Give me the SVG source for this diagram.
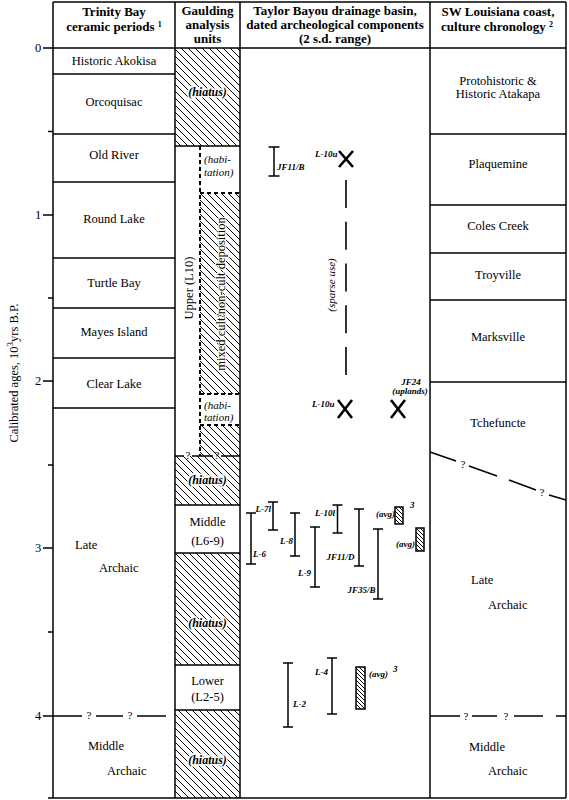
<svg xmlns="http://www.w3.org/2000/svg" width="569" height="800" viewBox="0 0 569 800">
<style>
.ln{stroke:#000;stroke-width:1.5;fill:none}
.dl{stroke:#000;stroke-width:2;fill:none;stroke-dasharray:4 3}
.bar{stroke:#000;stroke-width:1.5;fill:none}
.xm{stroke:#000;stroke-width:2.6;fill:none}
.t{font-family:"Liberation Serif","Times New Roman",serif;font-size:12.5px;fill:#000}
.c{text-anchor:middle}
.h{font-family:"Liberation Serif","Times New Roman",serif;font-size:13px;font-weight:bold;fill:#000;text-anchor:middle}
.bi{font-family:"Liberation Serif","Times New Roman",serif;font-size:9px;font-weight:bold;font-style:italic;fill:#000}
.hi{font-family:"Liberation Serif","Times New Roman",serif;font-size:12px;font-weight:bold;font-style:italic;fill:#000;text-anchor:middle;stroke:#fff;stroke-width:3;paint-order:stroke}
.it{font-family:"Liberation Serif","Times New Roman",serif;font-size:11px;font-style:italic;fill:#000}
.q{font-family:"Liberation Serif","Times New Roman",serif;font-size:11px;fill:#000;text-anchor:middle}
</style>
<defs>
<pattern id="hatch" patternUnits="userSpaceOnUse" width="7" height="7">
<path d="M-1,-1 L8,8 M-1,6 L1,8 M6,-1 L8,1" stroke="#000" stroke-width="1"/>
</pattern>
<pattern id="hatchs" patternUnits="userSpaceOnUse" width="4" height="4">
<path d="M-1,-1 L5,5 M-1,3 L1,5 M3,-1 L5,1" stroke="#000" stroke-width="1"/>
</pattern>
</defs>
<rect width="569" height="800" fill="#fff"/>

<g id="axis">
<line class="ln" x1="53" y1="2" x2="566" y2="2"/>
<line class="ln" x1="43" y1="48" x2="566" y2="48"/>
<line class="ln" x1="53" y1="2" x2="53" y2="798"/>
<line class="ln" x1="566" y1="2" x2="566" y2="798"/>
<line class="ln" x1="48" y1="798" x2="566" y2="798"/>
<line class="ln" x1="175" y1="2" x2="175" y2="798"/>
<line class="ln" x1="240" y1="2" x2="240" y2="798"/>
<line class="ln" x1="430" y1="2" x2="430" y2="798"/>
<line class="ln" x1="43" y1="215" x2="53" y2="215"/>
<line class="ln" x1="43" y1="381" x2="53" y2="381"/>
<line class="ln" x1="43" y1="548" x2="53" y2="548"/>
<line class="ln" x1="48" y1="131.5" x2="53" y2="131.5"/>
<line class="ln" x1="48" y1="298" x2="53" y2="298"/>
<line class="ln" x1="48" y1="465" x2="53" y2="465"/>
<line class="ln" x1="48" y1="632" x2="53" y2="632"/>
<text class="t" x="38" y="52" text-anchor="middle">0</text>
<text class="t" x="38" y="219" text-anchor="middle">1</text>
<text class="t" x="38" y="385" text-anchor="middle">2</text>
<text class="t" x="38" y="552" text-anchor="middle">3</text>
<text class="t" x="38" y="720" text-anchor="middle">4</text>
<text class="t" transform="translate(18,373) rotate(-90)" text-anchor="middle">Calibrated ages, 10<tspan font-size="9" dy="-5">3</tspan><tspan dy="5">yrs B.P.</tspan></text>
</g>

<g id="headers">
<text class="h" x="114" y="16">Trinity Bay</text>
<text class="h" x="114" y="31">ceramic periods <tspan font-size="8" dy="-4">1</tspan></text>
<text class="h" x="207.5" y="15">Gaulding</text>
<text class="h" x="207.5" y="29">analysis</text>
<text class="h" x="207.5" y="43">units</text>
<text class="h" x="335" y="15">Taylor Bayou drainage basin,</text>
<text class="h" x="335" y="29">dated archeological components</text>
<text class="h" x="335" y="43">(2 s.d. range)</text>
<text class="h" x="498" y="16">SW Louisiana coast,</text>
<text class="h" x="497" y="31">culture chronology <tspan font-size="8" dy="-4">2</tspan></text>
</g>

<g id="trinity">
<line class="ln" x1="53" y1="74" x2="175" y2="74"/>
<line class="ln" x1="53" y1="134" x2="175" y2="134"/>
<line class="ln" x1="53" y1="182" x2="175" y2="182"/>
<line class="ln" x1="53" y1="258" x2="175" y2="258"/>
<line class="ln" x1="53" y1="308" x2="175" y2="308"/>
<line class="ln" x1="53" y1="358" x2="175" y2="358"/>
<line class="ln" x1="53" y1="408" x2="175" y2="408"/>
<path class="ln" d="M43,716 H82 M96,716 H123 M137,716 H166"/>
<text class="q" x="89" y="719">?</text>
<text class="q" x="130" y="719">?</text>
<text class="t c" x="114" y="65">Historic Akokisa</text>
<text class="t c" x="114" y="106">Orcoquisac</text>
<text class="t c" x="114" y="159">Old River</text>
<text class="t c" x="114" y="223">Round Lake</text>
<text class="t c" x="114" y="287">Turtle Bay</text>
<text class="t c" x="114" y="336">Mayes Island</text>
<text class="t c" x="114" y="388">Clear Lake</text>
<text class="t" x="75" y="549">Late</text>
<text class="t" x="99" y="572">Archaic</text>
<text class="t" x="88" y="750">Middle</text>
<text class="t" x="107" y="775">Archaic</text>
</g>

<g id="gaulding">
<rect x="175" y="48" width="65" height="98" fill="url(#hatch)"/>
<line class="ln" x1="175" y1="146" x2="240" y2="146"/>
<text class="hi" x="207.5" y="96">(hiatus)</text>
<rect x="200" y="193" width="40" height="201" fill="url(#hatch)"/>
<rect x="200" y="425" width="40" height="31" fill="url(#hatch)"/>
<line class="dl" x1="200" y1="146" x2="200" y2="456"/>
<line class="dl" x1="200" y1="193" x2="240" y2="193"/>
<line class="dl" x1="200" y1="394" x2="240" y2="394"/>
<line class="dl" x1="200" y1="425" x2="240" y2="425"/>
<text class="it" x="204" y="163">(habi-</text>
<text class="it" x="204" y="176">tation)</text>
<text class="it" x="204" y="408.5">(habi-</text>
<text class="it" x="204" y="420.5">tation)</text>
<text class="t c" font-size="13" transform="translate(192.5,288) rotate(-90)">Upper  (L10)</text>
<text class="t c" font-size="13" stroke="#fff" stroke-width="2" paint-order="stroke" transform="translate(224.5,294) rotate(-90)">mixed cult/non-cult deposition</text>
<rect x="175" y="456" width="65" height="49" fill="url(#hatch)"/>
<path class="ln" d="M175,456 H184 M192,456 H213 M221,456 H240"/>
<text class="q" x="188" y="459">?</text>
<text class="q" x="217" y="459">?</text>
<text class="hi" x="207.5" y="484">(hiatus)</text>
<line class="ln" x1="175" y1="505" x2="240" y2="505"/>
<text class="t c" font-size="13" x="207.5" y="526">Middle</text>
<text class="t c" font-size="13" x="207.5" y="545">(L6-9)</text>
<line class="ln" x1="175" y1="553" x2="240" y2="553"/>
<rect x="175" y="553" width="65" height="112" fill="url(#hatch)"/>
<text class="hi" x="207.5" y="627">(hiatus)</text>
<line class="ln" x1="175" y1="665" x2="240" y2="665"/>
<text class="t c" font-size="13" x="207.5" y="685">Lower</text>
<text class="t c" font-size="13" x="207.5" y="701">(L2-5)</text>
<line class="ln" x1="175" y1="710" x2="240" y2="710"/>
<rect x="175" y="710" width="65" height="88" fill="url(#hatch)"/>
<text class="hi" x="207.5" y="764">(hiatus)</text>
</g>

<g id="taylor">
<path class="bar" d="M274,147 V176 M268.5,147 H279.5 M268.5,176 H279.5"/>
<text class="bi" x="277" y="170">JF11/B</text>
<path class="xm" d="M339,151 L353,167 M353,151 L339,167"/>
<text class="bi" x="315" y="157">L-10u</text>
<line x1="346" y1="180" x2="346" y2="375" stroke="#000" stroke-width="1.6" stroke-dasharray="28 13.75"/>
<text class="it" font-size="12" text-anchor="middle" transform="translate(335,285) rotate(-90)">(sparse use)</text>
<path class="xm" d="M338,400 L352,418 M352,400 L338,418"/>
<text class="bi" x="312" y="407">L-10u</text>
<path class="xm" d="M391,400 L405,418 M405,400 L391,418"/>
<text class="bi" x="411" y="385" text-anchor="middle">JF24</text>
<text class="bi" x="410" y="394" text-anchor="middle">(uplands)</text>

<path class="bar" d="M251,513 V564 M246,513 H256 M246,564 H256"/>
<text class="bi" x="253" y="557">L-6</text>
<path class="bar" d="M273,502 V530 M268,502 H278 M268,530 H278"/>
<text class="bi" x="255.5" y="512">L-7l</text>
<path class="bar" d="M295,513 V556 M290,513 H300 M290,556 H300"/>
<text class="bi" x="280" y="544">L-8</text>
<path class="bar" d="M315,527 V587 M310,527 H320 M310,587 H320"/>
<text class="bi" x="298" y="576">L-9</text>
<path class="bar" d="M337.5,505 V533 M332.5,505 H342.5 M332.5,533 H342.5"/>
<text class="bi" x="315" y="516">L-10l</text>
<path class="bar" d="M359,509 V566 M354,509 H364 M354,566 H364"/>
<text class="bi" x="326.5" y="560">JF11/D</text>
<path class="bar" d="M378,529 V599 M373,529 H383 M373,599 H383"/>
<text class="bi" x="347.5" y="593">JF35/B</text>
<rect x="395" y="507" width="8" height="17" fill="url(#hatchs)" stroke="#000" stroke-width="1.5"/>
<text class="bi" x="376" y="517">(avg)</text>
<text class="bi" x="410" y="508">3</text>
<rect x="416" y="528" width="8" height="23" fill="url(#hatchs)" stroke="#000" stroke-width="1.5"/>
<text class="bi" x="396" y="547">(avg)</text>

<path class="bar" d="M288,663 V727 M283,663 H293 M283,727 H293"/>
<text class="bi" x="293" y="707">L-2</text>
<path class="bar" d="M332,658 V714 M327,658 H337 M327,714 H337"/>
<text class="bi" x="315" y="675">L-4</text>
<rect x="356" y="667" width="9" height="42" fill="url(#hatchs)" stroke="#000" stroke-width="1.5"/>
<text class="bi" x="369" y="677">(avg)</text>
<text class="bi" x="393" y="672">3</text>
</g>

<g id="swlouisiana">
<line class="ln" x1="430" y1="134" x2="566" y2="134"/>
<line class="ln" x1="430" y1="205" x2="566" y2="205"/>
<line class="ln" x1="430" y1="253" x2="566" y2="253"/>
<line class="ln" x1="430" y1="300" x2="566" y2="300"/>
<line class="ln" x1="430" y1="382" x2="566" y2="382"/>
<text class="t c" x="498" y="84.5">Protohistoric &amp;</text>
<text class="t c" x="498" y="98">Historic Atakapa</text>
<text class="t c" x="498" y="168">Plaquemine</text>
<text class="t c" x="498" y="230">Coles Creek</text>
<text class="t c" x="498" y="279">Troyville</text>
<text class="t c" x="498" y="341">Marksville</text>
<text class="t c" x="498" y="427">Tchefuncte</text>
<path class="ln" d="M430,452 L456,461 M469,466 L497,476 M509,480 L536,490 M549,495 L566,500"/>
<text class="q" x="463" y="468">?</text>
<text class="q" x="542" y="496">?</text>
<text class="t" x="471" y="584">Late</text>
<text class="t" x="488" y="609">Archaic</text>
<path class="ln" d="M430,716 H460 M472,716 H497 M514,716 H543 M556,716 H566"/>
<text class="q" x="466" y="719.5">?</text>
<text class="q" x="506" y="719.5">?</text>
<text class="t" x="469" y="751">Middle</text>
<text class="t" x="488" y="775">Archaic</text>
</g>
</svg>
